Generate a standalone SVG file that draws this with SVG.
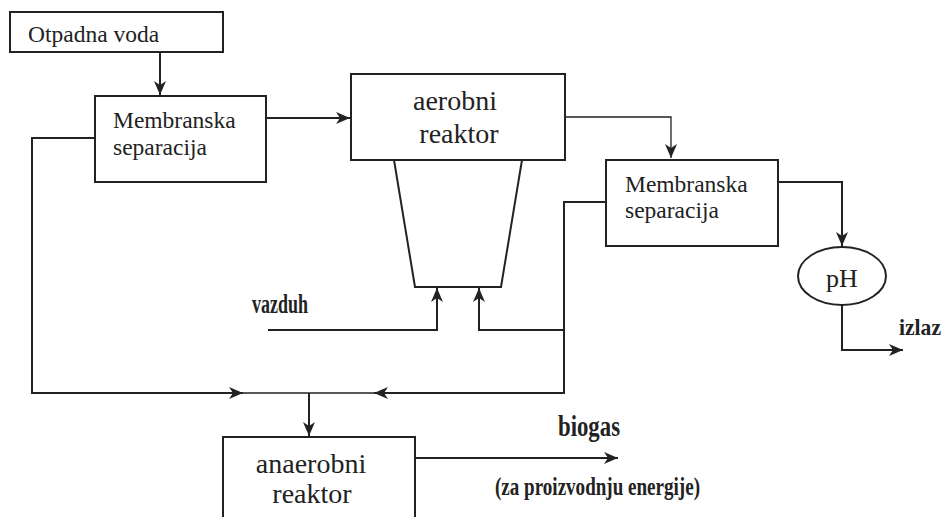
<svg xmlns="http://www.w3.org/2000/svg" width="947" height="517" viewBox="0 0 947 517">
<style>
.box{fill:#fff;stroke:#222;stroke-width:2}
.t{font-family:'Liberation Serif','Times New Roman','DejaVu Serif',serif;font-weight:normal;fill:#222}
.b{font-family:'Liberation Serif','Times New Roman','DejaVu Serif',serif;font-weight:bold;fill:#222}
.c{fill:none;stroke:#222;stroke-width:2}
.thin{fill:none;stroke:#222;stroke-width:1.3}
</style>
<defs>
<marker id="ah" markerUnits="userSpaceOnUse" markerWidth="16" markerHeight="12" refX="14" refY="6" orient="auto" viewBox="0 0 16 12">
<path d="M0,0 L14,6 L0,12 L4,6 z" fill="#222"/>
</marker>
</defs>
<rect width="947" height="517" fill="#fff"/>
<g id="connectors">
<path class="c" d="M160,52 V95" marker-end="url(#ah)"/>
<path class="c" d="M266,118 H350" stroke-width="2.5" marker-end="url(#ah)"/>
<path class="thin" d="M565,117 H671 V158" marker-end="url(#ah)"/>
<path class="c" d="M778,182 H842 V246" marker-end="url(#ah)"/>
<path class="c" d="M842,305 V350 H903" marker-end="url(#ah)"/>
<path class="c" d="M95,138 H32 V393 H243" marker-end="url(#ah)"/>
<path class="thin" d="M243,393 H374"/>
<path class="c" d="M606,202 H564 V393 H374" marker-end="url(#ah)"/>
<path class="c" d="M564,330 H479 V288" marker-end="url(#ah)"/>
<path class="c" d="M268,330 H437 V288" marker-end="url(#ah)"/>
<path class="c" d="M309,393 V436" marker-end="url(#ah)"/>
<path class="c" d="M415,458 H618" marker-end="url(#ah)"/>
</g>
<g id="otpadna-voda">
<rect class="box" x="10" y="12" width="213" height="40"/>
<text class="t" x="28" y="42" font-size="23.5">Otpadna voda</text>
</g>
<g id="membranska-1">
<rect class="box" x="95" y="96" width="171" height="86"/>
<text class="t" x="113" y="128" font-size="23.5">Membranska</text>
<text class="t" x="113" y="155" font-size="23.5">separacija</text>
</g>
<g id="aerobni-reaktor">
<rect class="box" x="351" y="74" width="214" height="86"/>
<polygon class="box" points="394,160 522,160 501,287 415,287"/>
<text class="t" x="455" y="110" font-size="28" text-anchor="middle">aerobni</text>
<text class="t" x="459" y="143" font-size="28" text-anchor="middle">reaktor</text>
</g>
<g id="membranska-2">
<rect class="box" x="606" y="160" width="172" height="86"/>
<text class="t" x="625" y="192" font-size="23.5">Membranska</text>
<text class="t" x="625" y="218" font-size="23.5">separacija</text>
</g>
<g id="ph">
<ellipse class="box" cx="842" cy="276" rx="44" ry="29"/>
<text class="t" x="842" y="287" font-size="26" text-anchor="middle">pH</text>
</g>
<g id="anaerobni-reaktor">
<rect class="box" x="223" y="437" width="192" height="90"/>
<text class="t" x="311" y="473" font-size="28" text-anchor="middle">anaerobni</text>
<text class="t" x="312" y="503" font-size="28" text-anchor="middle">reaktor</text>
</g>
<g id="labels">
<text class="b" x="252" y="313" font-size="27" textLength="56" lengthAdjust="spacingAndGlyphs">vazduh</text>
<text class="b" x="899" y="335" font-size="24" textLength="42" lengthAdjust="spacingAndGlyphs">izlaz</text>
<text class="b" x="558" y="436" font-size="29" textLength="62" lengthAdjust="spacingAndGlyphs">biogas</text>
<text class="b" x="495" y="495" font-size="25" textLength="205" lengthAdjust="spacingAndGlyphs">(za proizvodnju energije)</text>
</g>
</svg>
